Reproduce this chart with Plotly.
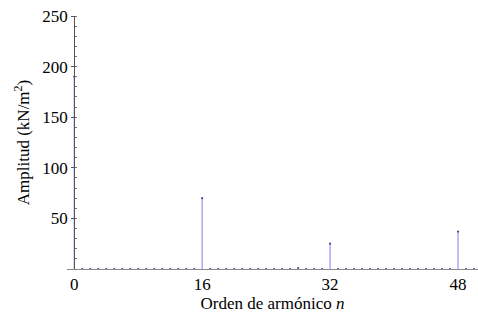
import plotly.graph_objects as go

# Harmonic order n and amplitude (kN/m^2)
orden = list(range(0, 51))
amplitud = [190, 0, 0, 0, 0, 0, 0, 0, 0, 0,
            0, 0, 0, 0, 0, 0, 70, 0, 0, 0,
            0, 0, 0, 0, 0, 0, 0, 0, 1, 0,
            0, 0, 25, 0, 0, 0, 0, 0, 0, 0,
            0, 0, 0, 0, 0, 0, 0, 0, 37, 0,
            0]
x_ticks = [0, 16, 32, 48]
y_ticks = [50, 100, 150, 200, 250]

x_range = [-0.9, 50.5]
y_range = [0, 250]

FONT = "Liberation Serif, Times New Roman, serif"

fig = go.Figure()
fig.add_trace(go.Scatter(
    x=orden, y=amplitud,
    mode="markers",
    marker=dict(color="#4a4a90", size=2.2),
    error_y=dict(type="data", symmetric=False,
                 array=[0] * len(amplitud), arrayminus=amplitud,
                 color="#8a8af5", thickness=1.1, width=0),
    cliponaxis=False,
    showlegend=False,
))

# y axis crosses the x axis at n = 0
y_pos = (0 - x_range[0]) / (x_range[1] - x_range[0])

fig.update_layout(
    width=478, height=322,
    margin=dict(l=67, r=0, t=16, b=53),
    paper_bgcolor="white", plot_bgcolor="white",
    font=dict(family=FONT, size=17, color="black"),
    xaxis=dict(
        range=x_range, domain=[0, 1],
        showgrid=False, zeroline=False,
        showline=True, linecolor="#8a8a8a", linewidth=1,
        tickvals=x_ticks, ticks="", ticklabelstandoff=0,
        title=dict(text="Orden de armónico <i>n</i>", standoff=1,
                   font=dict(family=FONT, size=17)),
    ),
    yaxis=dict(
        range=y_range, anchor="free", position=y_pos,
        showgrid=False, zeroline=False,
        showline=True, linecolor="#555555", linewidth=1,
        tickvals=y_ticks, ticks="outside", ticklen=3, tickcolor="#555555",
        minor=dict(dtick=10, ticks="inside", ticklen=2, tickcolor="#777777"),
        ticklabelstandoff=0,
        title=dict(text="Amplitud (kN/m<sup>2</sup>)", standoff=7,
                   font=dict(family=FONT, size=17)),
    ),
)

fig.write_html("out.html")
